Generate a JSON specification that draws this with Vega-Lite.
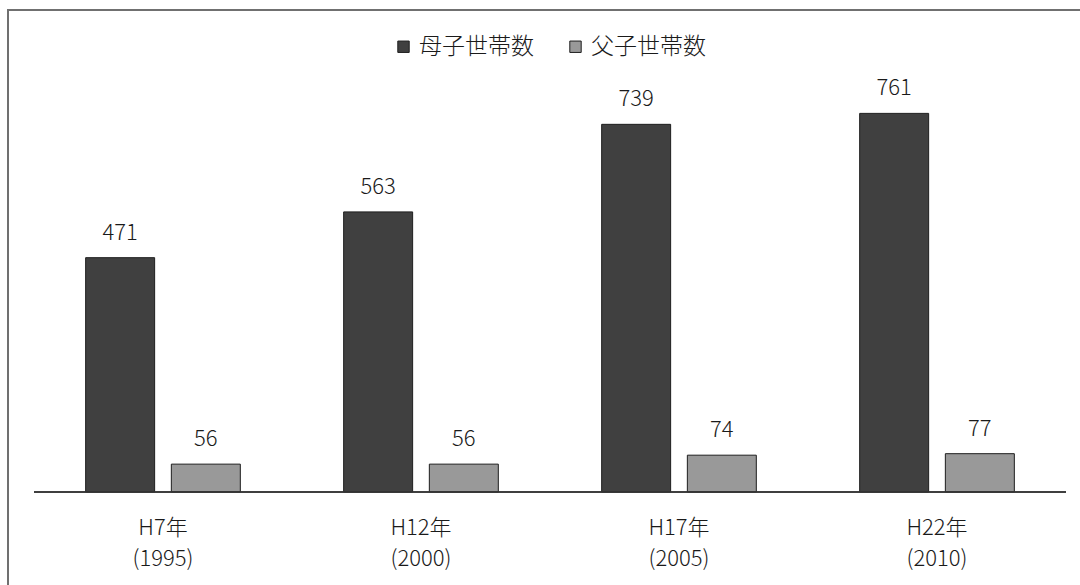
{
  "$schema": "https://vega.github.io/schema/vega-lite/v6.json",
  "autosize": {"type": "none"},
  "padding": {"left": 8, "top": 10, "right": -6, "bottom": -6},
  "width": 1078,
  "height": 581,
  "background": "white",
  "config": {
    "font": "Noto Sans CJK JP",
    "view": {"stroke": "#707070", "strokeWidth": 2}
  },
  "data": {
    "values": [
      {"year": "H7年 (1995)", "type": "母子世帯数", "value": 471},
      {"year": "H7年 (1995)", "type": "父子世帯数", "value": 56},
      {"year": "H12年 (2000)", "type": "母子世帯数", "value": 563},
      {"year": "H12年 (2000)", "type": "父子世帯数", "value": 56},
      {"year": "H17年 (2005)", "type": "母子世帯数", "value": 739},
      {"year": "H17年 (2005)", "type": "父子世帯数", "value": 74},
      {"year": "H22年 (2010)", "type": "母子世帯数", "value": 761},
      {"year": "H22年 (2010)", "type": "父子世帯数", "value": 77}
    ]
  },
  "encoding": {
    "x": {
      "field": "year",
      "type": "nominal",
      "sort": null,
      "scale": {"paddingInner": 0, "paddingOuter": 0.0891, "align": 0.565},
      "axis": {
        "title": null,
        "domain": false,
        "ticks": false,
        "labelAngle": 0,
        "labelPadding": 0,
        "offset": -74,
        "labelBaseline": "top",
        "labelFontSize": 22,
        "labelFontWeight": 300,
        "labelColor": "#1a1a1a",
        "labelLineHeight": 31,
        "labelExpr": "split(datum.label, ' ')"
      }
    }
  },
  "layer": [
    {
      "mark": {"type": "bar", "stroke": "#1e1e1e", "strokeWidth": 1},
      "encoding": {
        "xOffset": {
          "field": "type",
          "type": "nominal",
          "sort": ["母子世帯数", "父子世帯数"],
          "scale": {"paddingInner": 0.195, "paddingOuter": 0.603}
        },
        "y": {
          "field": "value",
          "type": "quantitative",
          "scale": {"domain": [-199, 968.8], "nice": false, "zero": false},
          "axis": null
        },
        "y2": {"datum": 0},
        "color": {
          "field": "type",
          "type": "nominal",
          "sort": ["母子世帯数", "父子世帯数"],
          "scale": {"domain": ["母子世帯数", "父子世帯数"], "range": ["#404040", "#999999"]},
          "legend": {
            "title": null,
            "orient": "none",
            "direction": "horizontal",
            "legendX": 384,
            "legendY": 25,
            "symbolType": "square",
            "symbolSize": 130,
            "symbolStrokeColor": "#1e1e1e",
            "symbolStrokeWidth": 1,
            "symbolOpacity": 1,
            "labelFontSize": 23,
            "labelFontWeight": 300,
            "labelColor": "#1a1a1a",
            "labelOffset": 4,
            "columnPadding": 30,
            "labelLimit": 300
          }
        }
      }
    },
    {
      "mark": {"type": "text", "dy": -18, "baseline": "alphabetic", "fontSize": 22, "fontWeight": 300, "color": "#1a1a1a"},
      "encoding": {
        "xOffset": {"field": "type", "type": "nominal", "sort": ["母子世帯数", "父子世帯数"]},
        "y": {"field": "value", "type": "quantitative"},
        "text": {"field": "value", "type": "quantitative"}
      }
    },
    {
      "mark": {"type": "rule", "color": "#333333", "strokeWidth": 1.5},
      "encoding": {
        "x": {"field": "year", "type": "nominal", "sort": null, "bandPosition": 0},
        "x2": {"field": "year", "bandPosition": 1},
        "y": {"datum": 0}
      }
    }
  ]
}
